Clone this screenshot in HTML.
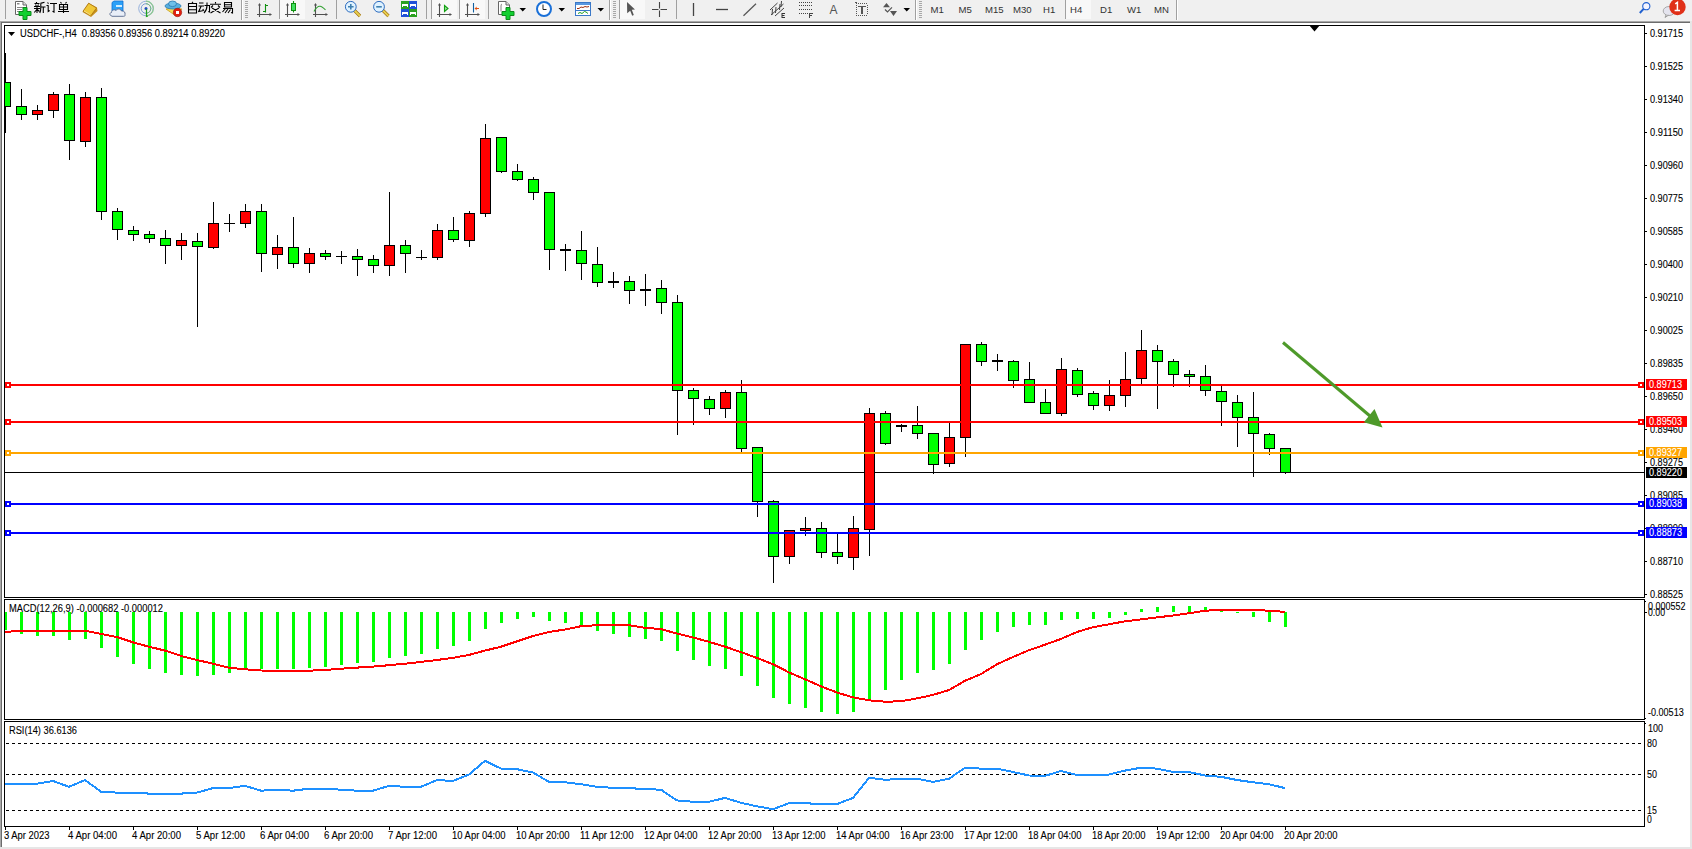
<!DOCTYPE html><html><head><meta charset="utf-8"><style>html,body{margin:0;padding:0;width:1692px;height:849px;overflow:hidden;background:#fff}svg{display:block}text{font-family:"Liberation Sans", sans-serif;}</style></head><body>
<svg width="1692" height="849" viewBox="0 0 1692 849">
<rect x="0" y="0" width="1692" height="849" fill="#ffffff"/>
<g shape-rendering="crispEdges">
<rect x="0" y="0" width="1692" height="21" fill="#f0f0f0"/>
<rect x="0" y="21" width="1690" height="1" fill="#a8a8a8"/>
<rect x="0" y="22" width="1690" height="1" fill="#6c6c6c"/>
<rect x="0" y="21" width="1" height="826" fill="#a8a8a8"/>
<rect x="1" y="22" width="1" height="825" fill="#6c6c6c"/>
<rect x="1690" y="21" width="2" height="826" fill="#e6e6e6"/>
<rect x="0" y="847" width="1692" height="2" fill="#e6e6e6"/>
<rect x="4" y="25" width="1641" height="1" fill="#000"/>
<rect x="4" y="597" width="1641" height="1" fill="#000"/>
<rect x="4" y="25" width="1" height="573" fill="#000"/>
<rect x="1644" y="25" width="1" height="573" fill="#000"/>
<rect x="4" y="599" width="1641" height="1" fill="#000"/>
<rect x="4" y="719" width="1641" height="1" fill="#000"/>
<rect x="4" y="599" width="1" height="121" fill="#000"/>
<rect x="1644" y="599" width="1" height="121" fill="#000"/>
<rect x="4" y="721" width="1641" height="1" fill="#000"/>
<rect x="4" y="826" width="1641" height="1" fill="#000"/>
<rect x="4" y="721" width="1" height="106" fill="#000"/>
<rect x="1644" y="721" width="1" height="106" fill="#000"/>
</g>
<defs><clipPath id="cm"><rect x="5" y="26" width="1639" height="571"/></clipPath><clipPath id="cmacd"><rect x="5" y="600" width="1639" height="119"/></clipPath><clipPath id="crsi"><rect x="5" y="722" width="1639" height="104"/></clipPath></defs>
<g shape-rendering="crispEdges">
<rect x="5" y="472" width="1639" height="1" fill="#000"/>
</g>
<g clip-path="url(#cm)" shape-rendering="crispEdges">
<rect x="5" y="53" width="1" height="80" fill="#000"/>
<rect x="0" y="82" width="11" height="25" fill="#000"/>
<rect x="1" y="83" width="9" height="23" fill="#00ff00"/>
<rect x="21" y="89" width="1" height="31" fill="#000"/>
<rect x="16" y="106" width="11" height="9" fill="#000"/>
<rect x="17" y="107" width="9" height="7" fill="#00ff00"/>
<rect x="37" y="105" width="1" height="15" fill="#000"/>
<rect x="32" y="110" width="11" height="5" fill="#000"/>
<rect x="33" y="111" width="9" height="3" fill="#ff0000"/>
<rect x="53" y="92" width="1" height="26" fill="#000"/>
<rect x="48" y="94" width="11" height="17" fill="#000"/>
<rect x="49" y="95" width="9" height="15" fill="#ff0000"/>
<rect x="69" y="84" width="1" height="76" fill="#000"/>
<rect x="64" y="94" width="11" height="47" fill="#000"/>
<rect x="65" y="95" width="9" height="45" fill="#00ff00"/>
<rect x="85" y="92" width="1" height="55" fill="#000"/>
<rect x="80" y="97" width="11" height="45" fill="#000"/>
<rect x="81" y="98" width="9" height="43" fill="#ff0000"/>
<rect x="101" y="88" width="1" height="132" fill="#000"/>
<rect x="96" y="97" width="11" height="115" fill="#000"/>
<rect x="97" y="98" width="9" height="113" fill="#00ff00"/>
<rect x="117" y="208" width="1" height="32" fill="#000"/>
<rect x="112" y="211" width="11" height="19" fill="#000"/>
<rect x="113" y="212" width="9" height="17" fill="#00ff00"/>
<rect x="133" y="226" width="1" height="15" fill="#000"/>
<rect x="128" y="230" width="11" height="5" fill="#000"/>
<rect x="129" y="231" width="9" height="3" fill="#00ff00"/>
<rect x="149" y="231" width="1" height="12" fill="#000"/>
<rect x="144" y="234" width="11" height="5" fill="#000"/>
<rect x="145" y="235" width="9" height="3" fill="#00ff00"/>
<rect x="165" y="230" width="1" height="34" fill="#000"/>
<rect x="160" y="238" width="11" height="8" fill="#000"/>
<rect x="161" y="239" width="9" height="6" fill="#00ff00"/>
<rect x="181" y="233" width="1" height="27" fill="#000"/>
<rect x="176" y="240" width="11" height="6" fill="#000"/>
<rect x="177" y="241" width="9" height="4" fill="#ff0000"/>
<rect x="197" y="233" width="1" height="94" fill="#000"/>
<rect x="192" y="241" width="11" height="6" fill="#000"/>
<rect x="193" y="242" width="9" height="4" fill="#00ff00"/>
<rect x="213" y="202" width="1" height="47" fill="#000"/>
<rect x="208" y="223" width="11" height="25" fill="#000"/>
<rect x="209" y="224" width="9" height="23" fill="#ff0000"/>
<rect x="229" y="214" width="1" height="18" fill="#000"/>
<rect x="224" y="223" width="11" height="1" fill="#000"/>
<rect x="245" y="204" width="1" height="24" fill="#000"/>
<rect x="240" y="211" width="11" height="13" fill="#000"/>
<rect x="241" y="212" width="9" height="11" fill="#ff0000"/>
<rect x="261" y="204" width="1" height="68" fill="#000"/>
<rect x="256" y="211" width="11" height="43" fill="#000"/>
<rect x="257" y="212" width="9" height="41" fill="#00ff00"/>
<rect x="277" y="235" width="1" height="34" fill="#000"/>
<rect x="272" y="247" width="11" height="8" fill="#000"/>
<rect x="273" y="248" width="9" height="6" fill="#ff0000"/>
<rect x="293" y="217" width="1" height="51" fill="#000"/>
<rect x="288" y="247" width="11" height="17" fill="#000"/>
<rect x="289" y="248" width="9" height="15" fill="#00ff00"/>
<rect x="309" y="248" width="1" height="25" fill="#000"/>
<rect x="304" y="253" width="11" height="11" fill="#000"/>
<rect x="305" y="254" width="9" height="9" fill="#ff0000"/>
<rect x="325" y="250" width="1" height="10" fill="#000"/>
<rect x="320" y="253" width="11" height="4" fill="#000"/>
<rect x="321" y="254" width="9" height="2" fill="#00ff00"/>
<rect x="341" y="251" width="1" height="13" fill="#000"/>
<rect x="336" y="256" width="11" height="1" fill="#000"/>
<rect x="357" y="249" width="1" height="27" fill="#000"/>
<rect x="352" y="256" width="11" height="4" fill="#000"/>
<rect x="353" y="257" width="9" height="2" fill="#00ff00"/>
<rect x="373" y="255" width="1" height="18" fill="#000"/>
<rect x="368" y="259" width="11" height="7" fill="#000"/>
<rect x="369" y="260" width="9" height="5" fill="#00ff00"/>
<rect x="389" y="192" width="1" height="84" fill="#000"/>
<rect x="384" y="245" width="11" height="21" fill="#000"/>
<rect x="385" y="246" width="9" height="19" fill="#ff0000"/>
<rect x="405" y="240" width="1" height="33" fill="#000"/>
<rect x="400" y="245" width="11" height="9" fill="#000"/>
<rect x="401" y="246" width="9" height="7" fill="#00ff00"/>
<rect x="421" y="250" width="1" height="10" fill="#000"/>
<rect x="416" y="257" width="11" height="1" fill="#000"/>
<rect x="437" y="224" width="1" height="36" fill="#000"/>
<rect x="432" y="230" width="11" height="28" fill="#000"/>
<rect x="433" y="231" width="9" height="26" fill="#ff0000"/>
<rect x="453" y="217" width="1" height="25" fill="#000"/>
<rect x="448" y="230" width="11" height="10" fill="#000"/>
<rect x="449" y="231" width="9" height="8" fill="#00ff00"/>
<rect x="469" y="211" width="1" height="36" fill="#000"/>
<rect x="464" y="213" width="11" height="28" fill="#000"/>
<rect x="465" y="214" width="9" height="26" fill="#ff0000"/>
<rect x="485" y="124" width="1" height="93" fill="#000"/>
<rect x="480" y="138" width="11" height="76" fill="#000"/>
<rect x="481" y="139" width="9" height="74" fill="#ff0000"/>
<rect x="501" y="137" width="1" height="36" fill="#000"/>
<rect x="496" y="137" width="11" height="35" fill="#000"/>
<rect x="497" y="138" width="9" height="33" fill="#00ff00"/>
<rect x="517" y="164" width="1" height="17" fill="#000"/>
<rect x="512" y="171" width="11" height="9" fill="#000"/>
<rect x="513" y="172" width="9" height="7" fill="#00ff00"/>
<rect x="533" y="177" width="1" height="23" fill="#000"/>
<rect x="528" y="179" width="11" height="14" fill="#000"/>
<rect x="529" y="180" width="9" height="12" fill="#00ff00"/>
<rect x="549" y="192" width="1" height="78" fill="#000"/>
<rect x="544" y="192" width="11" height="58" fill="#000"/>
<rect x="545" y="193" width="9" height="56" fill="#00ff00"/>
<rect x="565" y="244" width="1" height="27" fill="#000"/>
<rect x="560" y="249" width="11" height="2" fill="#000"/>
<rect x="581" y="231" width="1" height="49" fill="#000"/>
<rect x="576" y="250" width="11" height="14" fill="#000"/>
<rect x="577" y="251" width="9" height="12" fill="#00ff00"/>
<rect x="597" y="247" width="1" height="40" fill="#000"/>
<rect x="592" y="264" width="11" height="19" fill="#000"/>
<rect x="593" y="265" width="9" height="17" fill="#00ff00"/>
<rect x="613" y="272" width="1" height="16" fill="#000"/>
<rect x="608" y="281" width="11" height="2" fill="#000"/>
<rect x="629" y="276" width="1" height="28" fill="#000"/>
<rect x="624" y="281" width="11" height="10" fill="#000"/>
<rect x="625" y="282" width="9" height="8" fill="#00ff00"/>
<rect x="645" y="274" width="1" height="32" fill="#000"/>
<rect x="640" y="289" width="11" height="2" fill="#000"/>
<rect x="661" y="280" width="1" height="34" fill="#000"/>
<rect x="656" y="288" width="11" height="15" fill="#000"/>
<rect x="657" y="289" width="9" height="13" fill="#00ff00"/>
<rect x="677" y="295" width="1" height="140" fill="#000"/>
<rect x="672" y="302" width="11" height="89" fill="#000"/>
<rect x="673" y="303" width="9" height="87" fill="#00ff00"/>
<rect x="693" y="388" width="1" height="37" fill="#000"/>
<rect x="688" y="390" width="11" height="9" fill="#000"/>
<rect x="689" y="391" width="9" height="7" fill="#00ff00"/>
<rect x="709" y="396" width="1" height="19" fill="#000"/>
<rect x="704" y="399" width="11" height="10" fill="#000"/>
<rect x="705" y="400" width="9" height="8" fill="#00ff00"/>
<rect x="725" y="390" width="1" height="28" fill="#000"/>
<rect x="720" y="392" width="11" height="17" fill="#000"/>
<rect x="721" y="393" width="9" height="15" fill="#ff0000"/>
<rect x="741" y="380" width="1" height="72" fill="#000"/>
<rect x="736" y="392" width="11" height="57" fill="#000"/>
<rect x="737" y="393" width="9" height="55" fill="#00ff00"/>
<rect x="757" y="447" width="1" height="70" fill="#000"/>
<rect x="752" y="447" width="11" height="55" fill="#000"/>
<rect x="753" y="448" width="9" height="53" fill="#00ff00"/>
<rect x="773" y="500" width="1" height="83" fill="#000"/>
<rect x="768" y="501" width="11" height="56" fill="#000"/>
<rect x="769" y="502" width="9" height="54" fill="#00ff00"/>
<rect x="789" y="530" width="1" height="34" fill="#000"/>
<rect x="784" y="530" width="11" height="27" fill="#000"/>
<rect x="785" y="531" width="9" height="25" fill="#ff0000"/>
<rect x="805" y="517" width="1" height="19" fill="#000"/>
<rect x="800" y="528" width="11" height="3" fill="#000"/>
<rect x="801" y="529" width="9" height="1" fill="#ff0000"/>
<rect x="821" y="522" width="1" height="36" fill="#000"/>
<rect x="816" y="528" width="11" height="25" fill="#000"/>
<rect x="817" y="529" width="9" height="23" fill="#00ff00"/>
<rect x="837" y="533" width="1" height="31" fill="#000"/>
<rect x="832" y="552" width="11" height="5" fill="#000"/>
<rect x="833" y="553" width="9" height="3" fill="#00ff00"/>
<rect x="853" y="516" width="1" height="54" fill="#000"/>
<rect x="848" y="528" width="11" height="30" fill="#000"/>
<rect x="849" y="529" width="9" height="28" fill="#ff0000"/>
<rect x="869" y="408" width="1" height="148" fill="#000"/>
<rect x="864" y="413" width="11" height="117" fill="#000"/>
<rect x="865" y="414" width="9" height="115" fill="#ff0000"/>
<rect x="885" y="411" width="1" height="34" fill="#000"/>
<rect x="880" y="413" width="11" height="31" fill="#000"/>
<rect x="881" y="414" width="9" height="29" fill="#00ff00"/>
<rect x="901" y="424" width="1" height="8" fill="#000"/>
<rect x="896" y="425" width="11" height="2" fill="#000"/>
<rect x="917" y="406" width="1" height="33" fill="#000"/>
<rect x="912" y="425" width="11" height="9" fill="#000"/>
<rect x="913" y="426" width="9" height="7" fill="#00ff00"/>
<rect x="933" y="433" width="1" height="41" fill="#000"/>
<rect x="928" y="433" width="11" height="32" fill="#000"/>
<rect x="929" y="434" width="9" height="30" fill="#00ff00"/>
<rect x="949" y="422" width="1" height="45" fill="#000"/>
<rect x="944" y="437" width="11" height="27" fill="#000"/>
<rect x="945" y="438" width="9" height="25" fill="#ff0000"/>
<rect x="965" y="344" width="1" height="113" fill="#000"/>
<rect x="960" y="344" width="11" height="94" fill="#000"/>
<rect x="961" y="345" width="9" height="92" fill="#ff0000"/>
<rect x="981" y="342" width="1" height="24" fill="#000"/>
<rect x="976" y="344" width="11" height="18" fill="#000"/>
<rect x="977" y="345" width="9" height="16" fill="#00ff00"/>
<rect x="997" y="354" width="1" height="17" fill="#000"/>
<rect x="992" y="360" width="11" height="2" fill="#000"/>
<rect x="1013" y="360" width="1" height="28" fill="#000"/>
<rect x="1008" y="361" width="11" height="20" fill="#000"/>
<rect x="1009" y="362" width="9" height="18" fill="#00ff00"/>
<rect x="1029" y="362" width="1" height="41" fill="#000"/>
<rect x="1024" y="379" width="11" height="24" fill="#000"/>
<rect x="1025" y="380" width="9" height="22" fill="#00ff00"/>
<rect x="1045" y="389" width="1" height="25" fill="#000"/>
<rect x="1040" y="402" width="11" height="12" fill="#000"/>
<rect x="1041" y="403" width="9" height="10" fill="#00ff00"/>
<rect x="1061" y="358" width="1" height="58" fill="#000"/>
<rect x="1056" y="369" width="11" height="45" fill="#000"/>
<rect x="1057" y="370" width="9" height="43" fill="#ff0000"/>
<rect x="1077" y="368" width="1" height="29" fill="#000"/>
<rect x="1072" y="370" width="11" height="25" fill="#000"/>
<rect x="1073" y="371" width="9" height="23" fill="#00ff00"/>
<rect x="1093" y="391" width="1" height="19" fill="#000"/>
<rect x="1088" y="393" width="11" height="13" fill="#000"/>
<rect x="1089" y="394" width="9" height="11" fill="#00ff00"/>
<rect x="1109" y="380" width="1" height="31" fill="#000"/>
<rect x="1104" y="395" width="11" height="11" fill="#000"/>
<rect x="1105" y="396" width="9" height="9" fill="#ff0000"/>
<rect x="1125" y="352" width="1" height="55" fill="#000"/>
<rect x="1120" y="379" width="11" height="17" fill="#000"/>
<rect x="1121" y="380" width="9" height="15" fill="#ff0000"/>
<rect x="1141" y="330" width="1" height="55" fill="#000"/>
<rect x="1136" y="350" width="11" height="29" fill="#000"/>
<rect x="1137" y="351" width="9" height="27" fill="#ff0000"/>
<rect x="1157" y="345" width="1" height="64" fill="#000"/>
<rect x="1152" y="350" width="11" height="12" fill="#000"/>
<rect x="1153" y="351" width="9" height="10" fill="#00ff00"/>
<rect x="1173" y="359" width="1" height="28" fill="#000"/>
<rect x="1168" y="361" width="11" height="14" fill="#000"/>
<rect x="1169" y="362" width="9" height="12" fill="#00ff00"/>
<rect x="1189" y="370" width="1" height="17" fill="#000"/>
<rect x="1184" y="374" width="11" height="3" fill="#000"/>
<rect x="1185" y="375" width="9" height="1" fill="#00ff00"/>
<rect x="1205" y="365" width="1" height="31" fill="#000"/>
<rect x="1200" y="376" width="11" height="15" fill="#000"/>
<rect x="1201" y="377" width="9" height="13" fill="#00ff00"/>
<rect x="1221" y="386" width="1" height="40" fill="#000"/>
<rect x="1216" y="391" width="11" height="11" fill="#000"/>
<rect x="1217" y="392" width="9" height="9" fill="#00ff00"/>
<rect x="1237" y="395" width="1" height="52" fill="#000"/>
<rect x="1232" y="402" width="11" height="16" fill="#000"/>
<rect x="1233" y="403" width="9" height="14" fill="#00ff00"/>
<rect x="1253" y="392" width="1" height="85" fill="#000"/>
<rect x="1248" y="417" width="11" height="17" fill="#000"/>
<rect x="1249" y="418" width="9" height="15" fill="#00ff00"/>
<rect x="1269" y="433" width="1" height="22" fill="#000"/>
<rect x="1264" y="434" width="11" height="15" fill="#000"/>
<rect x="1265" y="435" width="9" height="13" fill="#00ff00"/>
<rect x="1285" y="448" width="1" height="26" fill="#000"/>
<rect x="1280" y="448" width="11" height="25" fill="#000"/>
<rect x="1281" y="449" width="9" height="23" fill="#00ff00"/>
</g>
<g shape-rendering="crispEdges">
<rect x="5" y="384" width="1639" height="2" fill="#ff0000"/>
<rect x="5" y="421" width="1639" height="2" fill="#ff0000"/>
<rect x="5" y="452" width="1639" height="2" fill="#ffa500"/>
<rect x="5" y="503" width="1639" height="2" fill="#0000ff"/>
<rect x="5" y="532" width="1639" height="2" fill="#0000ff"/>
<rect x="5" y="382" width="6" height="6" fill="#ff0000"/>
<rect x="7" y="384" width="2" height="2" fill="#fff"/>
<rect x="1638" y="382" width="6" height="6" fill="#ff0000"/>
<rect x="1640" y="384" width="2" height="2" fill="#fff"/>
<rect x="5" y="419" width="6" height="6" fill="#ff0000"/>
<rect x="7" y="421" width="2" height="2" fill="#fff"/>
<rect x="1638" y="419" width="6" height="6" fill="#ff0000"/>
<rect x="1640" y="421" width="2" height="2" fill="#fff"/>
<rect x="5" y="450" width="6" height="6" fill="#ffa500"/>
<rect x="7" y="452" width="2" height="2" fill="#fff"/>
<rect x="1638" y="450" width="6" height="6" fill="#ffa500"/>
<rect x="1640" y="452" width="2" height="2" fill="#fff"/>
<rect x="5" y="501" width="6" height="6" fill="#0000ff"/>
<rect x="7" y="503" width="2" height="2" fill="#fff"/>
<rect x="1638" y="501" width="6" height="6" fill="#0000ff"/>
<rect x="1640" y="503" width="2" height="2" fill="#fff"/>
<rect x="5" y="530" width="6" height="6" fill="#0000ff"/>
<rect x="7" y="532" width="2" height="2" fill="#fff"/>
<rect x="1638" y="530" width="6" height="6" fill="#0000ff"/>
<rect x="1640" y="532" width="2" height="2" fill="#fff"/>
</g>
<path d="M1309 25 L1320 25 L1314.5 31.5 Z" fill="#000"/>
<g>
<line x1="1283" y1="342.5" x2="1370" y2="416" stroke="#4e9a2a" stroke-width="3"/>
<path d="M1374.5 409 L1363.8 422.3 L1382.5 427.5 Z" fill="#4e9a2a"/>
</g>
<g shape-rendering="crispEdges">
<rect x="1645" y="33" width="2" height="1" fill="#000"/>
<rect x="1645" y="66" width="2" height="1" fill="#000"/>
<rect x="1645" y="99" width="2" height="1" fill="#000"/>
<rect x="1645" y="132" width="2" height="1" fill="#000"/>
<rect x="1645" y="165" width="2" height="1" fill="#000"/>
<rect x="1645" y="198" width="2" height="1" fill="#000"/>
<rect x="1645" y="231" width="2" height="1" fill="#000"/>
<rect x="1645" y="264" width="2" height="1" fill="#000"/>
<rect x="1645" y="297" width="2" height="1" fill="#000"/>
<rect x="1645" y="330" width="2" height="1" fill="#000"/>
<rect x="1645" y="363" width="2" height="1" fill="#000"/>
<rect x="1645" y="396" width="2" height="1" fill="#000"/>
<rect x="1645" y="429" width="2" height="1" fill="#000"/>
<rect x="1645" y="462" width="2" height="1" fill="#000"/>
<rect x="1645" y="495" width="2" height="1" fill="#000"/>
<rect x="1645" y="528" width="2" height="1" fill="#000"/>
<rect x="1645" y="561" width="2" height="1" fill="#000"/>
<rect x="1645" y="594" width="2" height="1" fill="#000"/>
</g>
<text x="1650" y="37" font-size="10" fill="#000" stroke="#000" stroke-width="0.1" textLength="33" lengthAdjust="spacingAndGlyphs">0.91715</text>
<text x="1650" y="70" font-size="10" fill="#000" stroke="#000" stroke-width="0.1" textLength="33" lengthAdjust="spacingAndGlyphs">0.91525</text>
<text x="1650" y="103" font-size="10" fill="#000" stroke="#000" stroke-width="0.1" textLength="33" lengthAdjust="spacingAndGlyphs">0.91340</text>
<text x="1650" y="136" font-size="10" fill="#000" stroke="#000" stroke-width="0.1" textLength="33" lengthAdjust="spacingAndGlyphs">0.91150</text>
<text x="1650" y="169" font-size="10" fill="#000" stroke="#000" stroke-width="0.1" textLength="33" lengthAdjust="spacingAndGlyphs">0.90960</text>
<text x="1650" y="202" font-size="10" fill="#000" stroke="#000" stroke-width="0.1" textLength="33" lengthAdjust="spacingAndGlyphs">0.90775</text>
<text x="1650" y="235" font-size="10" fill="#000" stroke="#000" stroke-width="0.1" textLength="33" lengthAdjust="spacingAndGlyphs">0.90585</text>
<text x="1650" y="268" font-size="10" fill="#000" stroke="#000" stroke-width="0.1" textLength="33" lengthAdjust="spacingAndGlyphs">0.90400</text>
<text x="1650" y="301" font-size="10" fill="#000" stroke="#000" stroke-width="0.1" textLength="33" lengthAdjust="spacingAndGlyphs">0.90210</text>
<text x="1650" y="334" font-size="10" fill="#000" stroke="#000" stroke-width="0.1" textLength="33" lengthAdjust="spacingAndGlyphs">0.90025</text>
<text x="1650" y="367" font-size="10" fill="#000" stroke="#000" stroke-width="0.1" textLength="33" lengthAdjust="spacingAndGlyphs">0.89835</text>
<text x="1650" y="400" font-size="10" fill="#000" stroke="#000" stroke-width="0.1" textLength="33" lengthAdjust="spacingAndGlyphs">0.89650</text>
<text x="1650" y="433" font-size="10" fill="#000" stroke="#000" stroke-width="0.1" textLength="33" lengthAdjust="spacingAndGlyphs">0.89460</text>
<text x="1650" y="466" font-size="10" fill="#000" stroke="#000" stroke-width="0.1" textLength="33" lengthAdjust="spacingAndGlyphs">0.89275</text>
<text x="1650" y="499" font-size="10" fill="#000" stroke="#000" stroke-width="0.1" textLength="33" lengthAdjust="spacingAndGlyphs">0.89085</text>
<text x="1650" y="532" font-size="10" fill="#000" stroke="#000" stroke-width="0.1" textLength="33" lengthAdjust="spacingAndGlyphs">0.88900</text>
<text x="1650" y="565" font-size="10" fill="#000" stroke="#000" stroke-width="0.1" textLength="33" lengthAdjust="spacingAndGlyphs">0.88710</text>
<text x="1650" y="598" font-size="10" fill="#000" stroke="#000" stroke-width="0.1" textLength="33" lengthAdjust="spacingAndGlyphs">0.88525</text>
<g shape-rendering="crispEdges">
<rect x="1646" y="379" width="41" height="11" fill="#ff0000"/>
<rect x="1646" y="416" width="41" height="11" fill="#ff0000"/>
<rect x="1646" y="447" width="41" height="11" fill="#ffa500"/>
<rect x="1646" y="498" width="41" height="11" fill="#0000ff"/>
<rect x="1646" y="527" width="41" height="11" fill="#0000ff"/>
<rect x="1646" y="467" width="41" height="11" fill="#000"/>
</g>
<text x="1649" y="388" font-size="10" fill="#fff" stroke="#fff" stroke-width="0.1" textLength="33" lengthAdjust="spacingAndGlyphs">0.89713</text>
<text x="1649" y="425" font-size="10" fill="#fff" stroke="#fff" stroke-width="0.1" textLength="33" lengthAdjust="spacingAndGlyphs">0.89503</text>
<text x="1649" y="456" font-size="10" fill="#fff" stroke="#fff" stroke-width="0.1" textLength="33" lengthAdjust="spacingAndGlyphs">0.89327</text>
<text x="1649" y="507" font-size="10" fill="#fff" stroke="#fff" stroke-width="0.1" textLength="33" lengthAdjust="spacingAndGlyphs">0.89038</text>
<text x="1649" y="536" font-size="10" fill="#fff" stroke="#fff" stroke-width="0.1" textLength="33" lengthAdjust="spacingAndGlyphs">0.88873</text>
<text x="1649" y="476" font-size="10" fill="#fff" stroke="#fff" stroke-width="0.1" textLength="33" lengthAdjust="spacingAndGlyphs">0.89220</text>
<g clip-path="url(#cmacd)" shape-rendering="crispEdges">
<rect x="4" y="612" width="3" height="18" fill="#00ff00"/>
<rect x="20" y="612" width="3" height="22" fill="#00ff00"/>
<rect x="36" y="612" width="3" height="24" fill="#00ff00"/>
<rect x="52" y="612" width="3" height="24" fill="#00ff00"/>
<rect x="68" y="612" width="3" height="28" fill="#00ff00"/>
<rect x="84" y="612" width="3" height="27" fill="#00ff00"/>
<rect x="100" y="612" width="3" height="36" fill="#00ff00"/>
<rect x="116" y="612" width="3" height="45" fill="#00ff00"/>
<rect x="132" y="612" width="3" height="52" fill="#00ff00"/>
<rect x="148" y="612" width="3" height="57" fill="#00ff00"/>
<rect x="164" y="612" width="3" height="61" fill="#00ff00"/>
<rect x="180" y="612" width="3" height="63" fill="#00ff00"/>
<rect x="196" y="612" width="3" height="64" fill="#00ff00"/>
<rect x="212" y="612" width="3" height="63" fill="#00ff00"/>
<rect x="228" y="612" width="3" height="61" fill="#00ff00"/>
<rect x="244" y="612" width="3" height="58" fill="#00ff00"/>
<rect x="260" y="612" width="3" height="57" fill="#00ff00"/>
<rect x="276" y="612" width="3" height="57" fill="#00ff00"/>
<rect x="292" y="612" width="3" height="57" fill="#00ff00"/>
<rect x="308" y="612" width="3" height="56" fill="#00ff00"/>
<rect x="324" y="612" width="3" height="55" fill="#00ff00"/>
<rect x="340" y="612" width="3" height="53" fill="#00ff00"/>
<rect x="356" y="612" width="3" height="51" fill="#00ff00"/>
<rect x="372" y="612" width="3" height="50" fill="#00ff00"/>
<rect x="388" y="612" width="3" height="46" fill="#00ff00"/>
<rect x="404" y="612" width="3" height="44" fill="#00ff00"/>
<rect x="420" y="612" width="3" height="42" fill="#00ff00"/>
<rect x="436" y="612" width="3" height="37" fill="#00ff00"/>
<rect x="452" y="612" width="3" height="34" fill="#00ff00"/>
<rect x="468" y="612" width="3" height="29" fill="#00ff00"/>
<rect x="484" y="612" width="3" height="17" fill="#00ff00"/>
<rect x="500" y="612" width="3" height="11" fill="#00ff00"/>
<rect x="516" y="612" width="3" height="7" fill="#00ff00"/>
<rect x="532" y="612" width="3" height="5" fill="#00ff00"/>
<rect x="548" y="612" width="3" height="9" fill="#00ff00"/>
<rect x="564" y="612" width="3" height="11" fill="#00ff00"/>
<rect x="580" y="612" width="3" height="14" fill="#00ff00"/>
<rect x="596" y="612" width="3" height="19" fill="#00ff00"/>
<rect x="612" y="612" width="3" height="22" fill="#00ff00"/>
<rect x="628" y="612" width="3" height="25" fill="#00ff00"/>
<rect x="644" y="612" width="3" height="27" fill="#00ff00"/>
<rect x="660" y="612" width="3" height="29" fill="#00ff00"/>
<rect x="676" y="612" width="3" height="39" fill="#00ff00"/>
<rect x="692" y="612" width="3" height="48" fill="#00ff00"/>
<rect x="708" y="612" width="3" height="54" fill="#00ff00"/>
<rect x="724" y="612" width="3" height="57" fill="#00ff00"/>
<rect x="740" y="612" width="3" height="64" fill="#00ff00"/>
<rect x="756" y="612" width="3" height="74" fill="#00ff00"/>
<rect x="772" y="612" width="3" height="86" fill="#00ff00"/>
<rect x="788" y="612" width="3" height="92" fill="#00ff00"/>
<rect x="804" y="612" width="3" height="96" fill="#00ff00"/>
<rect x="820" y="612" width="3" height="100" fill="#00ff00"/>
<rect x="836" y="612" width="3" height="102" fill="#00ff00"/>
<rect x="852" y="612" width="3" height="100" fill="#00ff00"/>
<rect x="868" y="612" width="3" height="87" fill="#00ff00"/>
<rect x="884" y="612" width="3" height="78" fill="#00ff00"/>
<rect x="900" y="612" width="3" height="68" fill="#00ff00"/>
<rect x="916" y="612" width="3" height="61" fill="#00ff00"/>
<rect x="932" y="612" width="3" height="58" fill="#00ff00"/>
<rect x="948" y="612" width="3" height="52" fill="#00ff00"/>
<rect x="964" y="612" width="3" height="38" fill="#00ff00"/>
<rect x="980" y="612" width="3" height="28" fill="#00ff00"/>
<rect x="996" y="612" width="3" height="20" fill="#00ff00"/>
<rect x="1012" y="612" width="3" height="15" fill="#00ff00"/>
<rect x="1028" y="612" width="3" height="13" fill="#00ff00"/>
<rect x="1044" y="612" width="3" height="13" fill="#00ff00"/>
<rect x="1060" y="612" width="3" height="8" fill="#00ff00"/>
<rect x="1076" y="612" width="3" height="7" fill="#00ff00"/>
<rect x="1092" y="612" width="3" height="7" fill="#00ff00"/>
<rect x="1108" y="612" width="3" height="6" fill="#00ff00"/>
<rect x="1124" y="612" width="3" height="3" fill="#00ff00"/>
<rect x="1140" y="609" width="3" height="3" fill="#00ff00"/>
<rect x="1156" y="607" width="3" height="5" fill="#00ff00"/>
<rect x="1172" y="606" width="3" height="6" fill="#00ff00"/>
<rect x="1188" y="606" width="3" height="6" fill="#00ff00"/>
<rect x="1204" y="607" width="3" height="5" fill="#00ff00"/>
<rect x="1220" y="609" width="3" height="3" fill="#00ff00"/>
<rect x="1236" y="612" width="3" height="1" fill="#00ff00"/>
<rect x="1252" y="612" width="3" height="5" fill="#00ff00"/>
<rect x="1268" y="612" width="3" height="10" fill="#00ff00"/>
<rect x="1284" y="612" width="3" height="15" fill="#00ff00"/>
</g>
<polyline clip-path="url(#cmacd)" points="5,632.0 21,630.7 37,630.7 53,630.7 69,630.7 85,630.7 101,634.0 117,637.0 133,642.4 149,646.7 165,650.6 181,655.9 197,660.0 213,663.7 229,667.8 245,669.3 261,670.5 277,670.7 293,670.7 309,670.7 325,670.0 341,668.7 357,667.6 373,666.6 389,665.2 405,663.7 421,661.9 437,660.0 453,657.8 469,654.9 485,650.6 501,646.7 517,641.4 533,636.0 549,632.0 565,629.5 581,626.2 597,625.2 613,624.8 629,625.2 645,627.8 661,629.1 677,633.6 693,637.5 709,641.8 725,646.7 741,652.1 757,658.0 773,664.2 789,672.4 805,679.3 821,686.3 837,692.5 853,697.4 869,700.3 885,701.7 901,701.3 917,698.4 933,694.9 949,690.0 965,680.8 981,674.0 997,664.2 1013,657.0 1029,650.2 1045,644.7 1061,638.9 1077,632.0 1093,627.2 1109,624.3 1125,621.3 1141,619.4 1157,617.4 1173,615.5 1189,613.2 1205,610.8 1221,609.7 1237,609.7 1253,609.7 1269,610.8 1285,611.8" fill="none" stroke="#ff0000" stroke-width="2" shape-rendering="crispEdges"/>
<text x="9" y="612" font-size="10" fill="#000" stroke="#000" stroke-width="0.1" textLength="154" lengthAdjust="spacingAndGlyphs">MACD(12,26,9) -0.000682 -0.000012</text>
<g shape-rendering="crispEdges">
<rect x="1645" y="601" width="1" height="1" fill="#000"/>
<rect x="1645" y="612" width="2" height="1" fill="#000"/>
<rect x="1645" y="718" width="1" height="1" fill="#000"/>
</g>
<text x="1648" y="610" font-size="10" fill="#000" stroke="#000" stroke-width="0.1" textLength="37.4" lengthAdjust="spacingAndGlyphs">0.000552</text>
<text x="1648" y="615.5" font-size="10" fill="#000" stroke="#000" stroke-width="0.1" textLength="17" lengthAdjust="spacingAndGlyphs">0.00</text>
<text x="1648" y="716" font-size="10" fill="#000" stroke="#000" stroke-width="0.1" textLength="35.7" lengthAdjust="spacingAndGlyphs">-0.00513</text>
<g shape-rendering="crispEdges">
<line x1="6" y1="743.5" x2="1644" y2="743.5" stroke="#000" stroke-width="1" stroke-dasharray="3,3"/>
<line x1="6" y1="774.5" x2="1644" y2="774.5" stroke="#000" stroke-width="1" stroke-dasharray="3,3"/>
<line x1="6" y1="810.5" x2="1644" y2="810.5" stroke="#000" stroke-width="1" stroke-dasharray="3,3"/>
<rect x="1645" y="723" width="1" height="1" fill="#000"/>
</g>
<polyline clip-path="url(#crsi)" points="5,783.7 21,783.7 37,783.7 53,781.0 69,786.8 85,780.0 101,791.7 117,792.6 133,792.6 149,793.6 165,793.6 181,793.6 197,792.6 213,788.1 229,788.1 245,785.8 261,790.7 277,789.7 293,790.7 309,788.7 325,788.7 341,789.7 357,790.7 373,790.7 389,785.8 405,786.8 421,786.8 437,780.0 453,781.0 469,774.5 485,760.8 501,768.6 517,769.2 533,772.5 549,781.9 565,782.3 581,784.2 597,786.8 613,787.8 629,788.1 645,789.1 661,789.7 677,800.4 693,801.8 709,801.8 725,797.9 741,802.8 757,806.3 773,809.2 789,803.2 805,803.2 821,804.1 837,804.1 853,797.9 869,777.8 885,779.8 901,778.8 917,778.8 933,781.9 949,778.8 965,767.7 981,768.6 997,768.6 1013,772.0 1029,775.5 1045,775.9 1061,771.0 1077,774.9 1093,774.9 1109,774.5 1125,770.6 1141,767.7 1157,768.6 1173,772.0 1189,772.0 1205,775.5 1221,776.8 1237,780.0 1253,782.3 1269,784.2 1285,788.1" fill="none" stroke="#1e90ff" stroke-width="2" shape-rendering="crispEdges"/>
<text x="9" y="734" font-size="10" fill="#000" stroke="#000" stroke-width="0.1" textLength="68" lengthAdjust="spacingAndGlyphs">RSI(14) 36.6136</text>
<text x="1648" y="732" font-size="10" fill="#000" stroke="#000" stroke-width="0.1" textLength="15" lengthAdjust="spacingAndGlyphs">100</text>
<text x="1647" y="747" font-size="10" fill="#000" stroke="#000" stroke-width="0.1" textLength="10" lengthAdjust="spacingAndGlyphs">80</text>
<text x="1647" y="778" font-size="10" fill="#000" stroke="#000" stroke-width="0.1" textLength="10" lengthAdjust="spacingAndGlyphs">50</text>
<text x="1647" y="814" font-size="10" fill="#000" stroke="#000" stroke-width="0.1" textLength="9.8" lengthAdjust="spacingAndGlyphs">15</text>
<text x="1647" y="823" font-size="10" fill="#000" stroke="#000" stroke-width="0.1" textLength="4.8" lengthAdjust="spacingAndGlyphs">0</text>
<g shape-rendering="crispEdges">
<rect x="5" y="827" width="1" height="3" fill="#000"/>
<rect x="69" y="827" width="1" height="3" fill="#000"/>
<rect x="133" y="827" width="1" height="3" fill="#000"/>
<rect x="197" y="827" width="1" height="3" fill="#000"/>
<rect x="261" y="827" width="1" height="3" fill="#000"/>
<rect x="325" y="827" width="1" height="3" fill="#000"/>
<rect x="389" y="827" width="1" height="3" fill="#000"/>
<rect x="453" y="827" width="1" height="3" fill="#000"/>
<rect x="517" y="827" width="1" height="3" fill="#000"/>
<rect x="581" y="827" width="1" height="3" fill="#000"/>
<rect x="645" y="827" width="1" height="3" fill="#000"/>
<rect x="709" y="827" width="1" height="3" fill="#000"/>
<rect x="773" y="827" width="1" height="3" fill="#000"/>
<rect x="837" y="827" width="1" height="3" fill="#000"/>
<rect x="901" y="827" width="1" height="3" fill="#000"/>
<rect x="965" y="827" width="1" height="3" fill="#000"/>
<rect x="1029" y="827" width="1" height="3" fill="#000"/>
<rect x="1093" y="827" width="1" height="3" fill="#000"/>
<rect x="1157" y="827" width="1" height="3" fill="#000"/>
<rect x="1221" y="827" width="1" height="3" fill="#000"/>
<rect x="1285" y="827" width="1" height="3" fill="#000"/>
</g>
<text x="4" y="839" font-size="10" fill="#000" stroke="#000" stroke-width="0.1" textLength="45.5" lengthAdjust="spacingAndGlyphs">3 Apr 2023</text>
<text x="68" y="839" font-size="10" fill="#000" stroke="#000" stroke-width="0.1" textLength="49" lengthAdjust="spacingAndGlyphs">4 Apr 04:00</text>
<text x="132" y="839" font-size="10" fill="#000" stroke="#000" stroke-width="0.1" textLength="49" lengthAdjust="spacingAndGlyphs">4 Apr 20:00</text>
<text x="196" y="839" font-size="10" fill="#000" stroke="#000" stroke-width="0.1" textLength="49" lengthAdjust="spacingAndGlyphs">5 Apr 12:00</text>
<text x="260" y="839" font-size="10" fill="#000" stroke="#000" stroke-width="0.1" textLength="49" lengthAdjust="spacingAndGlyphs">6 Apr 04:00</text>
<text x="324" y="839" font-size="10" fill="#000" stroke="#000" stroke-width="0.1" textLength="49" lengthAdjust="spacingAndGlyphs">6 Apr 20:00</text>
<text x="388" y="839" font-size="10" fill="#000" stroke="#000" stroke-width="0.1" textLength="49" lengthAdjust="spacingAndGlyphs">7 Apr 12:00</text>
<text x="452" y="839" font-size="10" fill="#000" stroke="#000" stroke-width="0.1" textLength="53.5" lengthAdjust="spacingAndGlyphs">10 Apr 04:00</text>
<text x="516" y="839" font-size="10" fill="#000" stroke="#000" stroke-width="0.1" textLength="53.5" lengthAdjust="spacingAndGlyphs">10 Apr 20:00</text>
<text x="580" y="839" font-size="10" fill="#000" stroke="#000" stroke-width="0.1" textLength="53.5" lengthAdjust="spacingAndGlyphs">11 Apr 12:00</text>
<text x="644" y="839" font-size="10" fill="#000" stroke="#000" stroke-width="0.1" textLength="53.5" lengthAdjust="spacingAndGlyphs">12 Apr 04:00</text>
<text x="708" y="839" font-size="10" fill="#000" stroke="#000" stroke-width="0.1" textLength="53.5" lengthAdjust="spacingAndGlyphs">12 Apr 20:00</text>
<text x="772" y="839" font-size="10" fill="#000" stroke="#000" stroke-width="0.1" textLength="53.5" lengthAdjust="spacingAndGlyphs">13 Apr 12:00</text>
<text x="836" y="839" font-size="10" fill="#000" stroke="#000" stroke-width="0.1" textLength="53.5" lengthAdjust="spacingAndGlyphs">14 Apr 04:00</text>
<text x="900" y="839" font-size="10" fill="#000" stroke="#000" stroke-width="0.1" textLength="53.5" lengthAdjust="spacingAndGlyphs">16 Apr 23:00</text>
<text x="964" y="839" font-size="10" fill="#000" stroke="#000" stroke-width="0.1" textLength="53.5" lengthAdjust="spacingAndGlyphs">17 Apr 12:00</text>
<text x="1028" y="839" font-size="10" fill="#000" stroke="#000" stroke-width="0.1" textLength="53.5" lengthAdjust="spacingAndGlyphs">18 Apr 04:00</text>
<text x="1092" y="839" font-size="10" fill="#000" stroke="#000" stroke-width="0.1" textLength="53.5" lengthAdjust="spacingAndGlyphs">18 Apr 20:00</text>
<text x="1156" y="839" font-size="10" fill="#000" stroke="#000" stroke-width="0.1" textLength="53.5" lengthAdjust="spacingAndGlyphs">19 Apr 12:00</text>
<text x="1220" y="839" font-size="10" fill="#000" stroke="#000" stroke-width="0.1" textLength="53.5" lengthAdjust="spacingAndGlyphs">20 Apr 04:00</text>
<text x="1284" y="839" font-size="10" fill="#000" stroke="#000" stroke-width="0.1" textLength="53.5" lengthAdjust="spacingAndGlyphs">20 Apr 20:00</text>
<path d="M8 32 L15 32 L11.5 36 Z" fill="#000"/>
<text x="20" y="37" font-size="10" fill="#000" stroke="#000" stroke-width="0.1" textLength="205" lengthAdjust="spacingAndGlyphs" xml:space="preserve">USDCHF-,H4  0.89356 0.89356 0.89214 0.89220</text>
<g id="toolbar">
<!-- separators -->
<g shape-rendering="crispEdges">
<rect x="5" y="0" width="1" height="19" fill="#a0a0a0"/>
<rect x="241" y="0" width="1" height="20" fill="#a0a0a0"/><rect x="242" y="0" width="1" height="20" fill="#ffffff"/>
<rect x="279" y="0" width="1" height="19" fill="#a0a0a0"/>
<rect x="336" y="0" width="1" height="19" fill="#a0a0a0"/>
<rect x="426" y="0" width="1" height="19" fill="#a0a0a0"/>
<rect x="431" y="0" width="1" height="19" fill="#a0a0a0"/>
<rect x="459" y="0" width="1" height="19" fill="#a0a0a0"/>
<rect x="488" y="0" width="1" height="19" fill="#a0a0a0"/>
<rect x="609" y="0" width="1" height="20" fill="#a0a0a0"/><rect x="610" y="0" width="1" height="20" fill="#ffffff"/>
<rect x="619" y="0" width="1" height="19" fill="#a0a0a0"/>
<rect x="676" y="0" width="1" height="19" fill="#a0a0a0"/>
<rect x="915" y="0" width="1" height="20" fill="#a0a0a0"/><rect x="916" y="0" width="1" height="20" fill="#ffffff"/>
<rect x="1065" y="0" width="1" height="19" fill="#a0a0a0"/>
<rect x="1176" y="0" width="1" height="20" fill="#a0a0a0"/><rect x="1177" y="0" width="1" height="20" fill="#ffffff"/>
<!-- selected bgs -->
<rect x="280" y="0" width="25" height="19" fill="#f8f8f8"/>
<rect x="432" y="0" width="25" height="19" fill="#f8f8f8"/>
<rect x="460" y="0" width="25" height="19" fill="#f8f8f8"/>
<rect x="620" y="0" width="25" height="19" fill="#f8f8f8"/>
<rect x="1066" y="0" width="25" height="19" fill="#f8f8f8"/>
</g>
<!-- grips -->
<g fill="#a8a8a8" shape-rendering="crispEdges">
<path d="M245 1h3v1h-3zM245 3h3v1h-3zM245 5h3v1h-3zM245 7h3v1h-3zM245 9h3v1h-3zM245 11h3v1h-3zM245 13h3v1h-3zM245 15h3v1h-3zM245 17h3v1h-3z"/>
<path d="M613 1h3v1h-3zM613 3h3v1h-3zM613 5h3v1h-3zM613 7h3v1h-3zM613 9h3v1h-3zM613 11h3v1h-3zM613 13h3v1h-3zM613 15h3v1h-3zM613 17h3v1h-3z"/>
<path d="M919 1h3v1h-3zM919 3h3v1h-3zM919 5h3v1h-3zM919 7h3v1h-3zM919 9h3v1h-3zM919 11h3v1h-3zM919 13h3v1h-3zM919 15h3v1h-3zM919 17h3v1h-3z"/>
</g>
<!-- new order icon -->
<g>
<path d="M15.5 1.5 H23 L26.5 5 V14.5 H15.5 Z" fill="#fff" stroke="#666" stroke-width="1"/>
<path d="M23 1.5 V5 H26.5" fill="#ddd" stroke="#666" stroke-width="1"/>
<rect x="17" y="3" width="2.5" height="1.5" fill="#888"/>
<rect x="17" y="7" width="6" height="1" fill="#888"/><rect x="17" y="9" width="5" height="1" fill="#888"/><rect x="17" y="11" width="3" height="1" fill="#888"/>
<path d="M23 7.5h4v4h4v4h-4v4h-4v-4h-4v-4h4z" fill="#10d030" stroke="#0a8a1a" stroke-width="1"/>
</g>
<!-- 新订单 -->
<g fill="none" stroke="#000" stroke-width="1.1" stroke-linecap="butt">
<path d="M36.5 2v1.5 M34.5 3.5h5 M35.5 4.5l0.8 1.5 M38.5 4.5l-0.8 1.5 M34 6.5h6 M34 8.5h6 M37 6.5v6.5 M36.8 9.5l-2.5 3 M37.2 9.5l2.3 2"/>
<path d="M44.5 2.2l-4 1.2 M40.8 3.5v4c0 2.5-0.3 4-1 5.5 M40.8 7h4.7 M43.3 7v6"/>
<path d="M47.5 2.5l1 1.2 M46.5 5.5h2 M48.2 5.5v6l1.5-1 M50 3.5h7 M54 3.5v8.5l-1.5-0.8"/>
<path d="M60.5 2l1 1.5 M66.5 2l-1 1.5 M59.5 4.5h8v5h-8z M59.5 7h8 M63.5 4.5v8.5 M58 11.5h11"/>
</g>
<!-- gold book -->
<g>
<path d="M82.5 12 L88.5 3 L97 7.5 L97.5 11 L91 17 Z" fill="#c8921a"/>
<path d="M83 11.2 L88.7 3.2 L96.5 8 L91 15.5 Z" fill="#f0c838" stroke="#a87010" stroke-width="0.8"/>
<path d="M84 11 L90.5 15" stroke="#fff0a0" stroke-width="0.8"/>
</g>
<!-- server cloud -->
<g>
<path d="M112 2.5 L114 1 H123 V11 H112 Z" fill="#2aa0f8" stroke="#1070d0" stroke-width="0.8"/>
<rect x="116" y="5" width="6" height="2" fill="#cfeeff"/>
<path d="M111 15.5 c-1.5 0 -1.5 -3 0.5 -3 c0 -2.5 3 -3.5 4.5 -2 c1 -2 4.5 -2 5.5 0.5 c2.5 -0.5 4 1.5 3.5 3.5 c0.5 1 -0.2 1.8 -1.5 1.8 H112 Z" fill="#e8eef8" stroke="#56688c" stroke-width="0.9"/>
</g>
<!-- signal -->
<g fill="none">
<circle cx="146" cy="8.5" r="7.3" stroke="#8aa8d8" stroke-width="0.9"/>
<circle cx="146" cy="8.5" r="4.8" stroke="#6a90d0" stroke-width="0.9"/>
<path d="M146 1.2 A7.3 7.3 0 0 1 146 15.8" stroke="#8cc890" stroke-width="1.2"/>
<path d="M146 3.7 A4.8 4.8 0 0 1 146 13.3" stroke="#7abc80" stroke-width="1"/>
<circle cx="146" cy="8.5" r="1.5" fill="#2050c0"/>
<path d="M146.5 9 V16.5 L148 16" stroke="#20a020" stroke-width="1.2"/>
</g>
<!-- auto trading hat -->
<g>
<path d="M166 9 L174 8 L182 9 L176 16 Z" fill="#f6dc58" stroke="#c8a020" stroke-width="0.8"/>
<ellipse cx="173" cy="6" rx="8" ry="3" fill="#58b0e0" stroke="#2878b0" stroke-width="0.8"/>
<ellipse cx="172.5" cy="3.8" rx="4" ry="2.8" fill="#70c0ea" stroke="#2878b0" stroke-width="0.8"/>
<circle cx="177.5" cy="12.5" r="4.2" fill="#e02010" stroke="#a01008" stroke-width="0.6"/>
<rect x="176" y="11" width="3" height="3" fill="#fff"/>
</g>
<!-- 自动交易 -->
<g fill="none" stroke="#000" stroke-width="1.1">
<path d="M193 1.8l-1 1.2 M188.5 3.5h8v9.5h-8z M188.5 6.5h8 M188.5 9.8h8"/>
<path d="M199 3h4.5 M198.5 6h5.5 M201.2 6l-2.5 5.5 l5 -1 M202.8 9l1 1.8 M204.5 5.5h5v6.5l-1.2-0.5 M207 2.5v3c0 3 -1 5.5 -3 7.5"/>
<path d="M215.5 2v1.5 M210 4.2h11 M213 5.5l-2 2 M218 5.5l2 2 M212 8l8.5 5 M219 8l-8.5 5"/>
<path d="M224.5 2.5h7v4.5h-7z M224.5 4.8h7 M223 8.5h9.5v4.5l-1.5-0.5 M225.5 8.5l-3 3.5 M228 9l-3 4 M230.5 9.5l-2.5 3.5"/>
</g>
<!-- bar chart icon -->
<g fill="none" stroke="#505050" stroke-width="1.1">
<path d="M259.5 4 V17 M257 14.5 H270"/>
</g>
<path d="M258 5.5 L259.5 3 L261 5.5 Z M269.5 13 L272 14.5 L269.5 16 Z" fill="#505050"/>
<path d="M265.5 4 V12.5 M265.5 5.5 H268 M263 11.5 H265.5" fill="none" stroke="#109010" stroke-width="1.1"/>
<!-- candle icon -->
<g fill="none" stroke="#505050" stroke-width="1.1"><path d="M287.5 4 V17 M285 14.5 H298"/></g>
<path d="M286 5.5 L287.5 3 L289 5.5 Z M297.5 13 L300 14.5 L297.5 16 Z" fill="#505050"/>
<path d="M293.5 1 V12.5" stroke="#109010" stroke-width="1.1"/>
<rect x="291.5" y="3.5" width="4" height="7" fill="#40e060" stroke="#109010" stroke-width="1"/>
<!-- line icon -->
<g fill="none" stroke="#505050" stroke-width="1.1"><path d="M315.5 4 V17 M313 14.5 H326"/></g>
<path d="M314 5.5 L315.5 3 L317 5.5 Z M325.5 13 L328 14.5 L325.5 16 Z" fill="#505050"/>
<path d="M314 11.5 Q317 6 320 6.3 Q322 6.5 325.5 9.8" fill="none" stroke="#30a030" stroke-width="1.1"/>
<!-- zoom in/out -->
<g>
<path d="M354.5 10.5 L360 16" stroke="#a07010" stroke-width="3.2"/>
<path d="M354.5 10.5 L360 16" stroke="#e8d050" stroke-width="1.8"/>
<circle cx="350.8" cy="6.8" r="5.4" fill="#dff2ff" stroke="#2c6cc0" stroke-width="1"/>
<path d="M348 6.8 H353.6 M350.8 4 V9.6" stroke="#4080b0" stroke-width="1.6"/>
<path d="M383 10.5 L388.5 16" stroke="#a07010" stroke-width="3.2"/>
<path d="M383 10.5 L388.5 16" stroke="#e8d050" stroke-width="1.8"/>
<circle cx="379" cy="6.8" r="5.4" fill="#dff2ff" stroke="#2c6cc0" stroke-width="1"/>
<path d="M376.2 6.8 H381.8" stroke="#4080b0" stroke-width="1.6"/>
</g>
<!-- tile windows -->
<g shape-rendering="crispEdges">
<rect x="401" y="1" width="8" height="8" fill="#2aa020"/><rect x="409" y="1" width="8" height="8" fill="#2050d8"/>
<rect x="401" y="9" width="8" height="8" fill="#2050d8"/><rect x="409" y="9" width="8" height="8" fill="#2aa020"/>
<path d="M402 4h6v3h-1v-1h-4v1h-1z M410 4h6v3h-1v-1h-4v1h-1z M402 12h6v3h-1v-1h-4v1h-1z M410 12h6v3h-1v-1h-4v1h-1z" fill="#fff"/>
</g>
<!-- auto scroll -->
<g fill="none" stroke="#505050" stroke-width="1.1"><path d="M439.5 4 V17 M437 14.5 H450"/></g>
<path d="M438 5.5 L439.5 3 L441 5.5 Z M449.5 13 L452 14.5 L449.5 16 Z" fill="#505050"/>
<path d="M444.5 5.5 L448 8.5 L444.5 11.5 Z" fill="#a0e0a0" stroke="#10a010" stroke-width="1.1"/>
<!-- chart shift -->
<g fill="none" stroke="#505050" stroke-width="1.1"><path d="M467.5 4 V17 M465 14.5 H478"/></g>
<path d="M466 5.5 L467.5 3 L469 5.5 Z M477.5 13 L480 14.5 L477.5 16 Z" fill="#505050"/>
<path d="M473.5 3 V12.5" stroke="#1060a0" stroke-width="1.1"/>
<path d="M474.5 8.5 L477 6.5 L476.5 8 H479 V9 H476.5 L477 10.5 Z" fill="#e05010"/>
<!-- new chart -->
<g>
<path d="M498.5 1.5 H506 L509.5 5 V14.5 H498.5 Z" fill="#fff" stroke="#666" stroke-width="1"/>
<path d="M506 1.5 V5 H509.5" fill="#ddd" stroke="#666" stroke-width="1"/>
<path d="M502 4 Q501 4 501 6 V11.5" fill="none" stroke="#666" stroke-width="0.8"/>
<path d="M506 7.5h4v4h4v4h-4v4h-4v-4h-4v-4h4z" fill="#10d030" stroke="#0a8a1a" stroke-width="1"/>
</g>
<path d="M519.5 8 H526 L522.75 11.5 Z M558.5 8 H565 L561.75 11.5 Z M597.5 8 H604 L600.75 11.5 Z M903.5 8 H910 L906.75 11.5 Z" fill="#000"/>
<!-- clock -->
<g>
<circle cx="544" cy="9" r="7" fill="#fff" stroke="#1a70d8" stroke-width="2"/>
<path d="M543 4.5 V9.5 H546.5" fill="none" stroke="#222" stroke-width="1"/>
</g>
<!-- templates -->
<g>
<rect x="575.5" y="2.5" width="15" height="13" fill="#fff" stroke="#3a78c8" stroke-width="1"/>
<rect x="576" y="3" width="14" height="2" fill="#5a98e0"/>
<path d="M576 10.5 H590" stroke="#3a78c8" stroke-width="1"/>
<path d="M577 8.5 L579 8.5 L581 7 L583 7.5 L585 6.5 L587 7 L589 6.5" fill="none" stroke="#a03010" stroke-width="1"/>
<path d="M578 13.5 L580 12.5 L582 13.5 L584.5 11.5 L586 12 L588 13.5" fill="none" stroke="#20a020" stroke-width="1"/>
</g>
<!-- cursor -->
<path d="M627 2 L635 9.6 L631.8 9.8 L633.8 15 L632.2 15.8 L630.2 10.7 L627.2 13.3 Z" fill="#555"/>
<!-- crosshair -->
<path d="M652 9.5 H658.5 M660.5 9.5 H667 M659.5 2 V8.5 M659.5 10.5 V17" stroke="#444" stroke-width="1.1"/>
<!-- vertical / horizontal / trend -->
<path d="M693.5 3 V16" stroke="#444" stroke-width="1.3"/>
<path d="M716 9.5 H728" stroke="#444" stroke-width="1.3"/>
<path d="M743.5 15.8 L756 3.8" stroke="#555" stroke-width="1.2"/>
<!-- equidistant channel -->
<g stroke="#444" stroke-width="1" fill="none">
<path d="M770 10 L777.5 3 M771 15 L783.5 4 M775 16 L784 8"/>
<path d="M772.5 9 L772 15 M776 7 L775.5 13 M780 4 L779.5 10 M781.5 1 L781 7"/>
</g>
<path d="M781.5 13h3.5v1h-2.5v1h2v1h-2v1h2.5v1h-3.5z" fill="#333"/>
<!-- fibonacci -->
<g fill="#444" shape-rendering="crispEdges">
<path d="M799 2h1v1h-1zM801 2h1v1h-1zM803 2h1v1h-1zM805 2h1v1h-1zM807 2h1v1h-1zM809 2h1v1h-1zM811 2h1v1h-1z"/>
<path d="M799 5h1v1h-1zM801 5h1v1h-1zM803 5h1v1h-1zM805 5h1v1h-1zM807 5h1v1h-1zM809 5h1v1h-1zM811 5h1v1h-1z"/>
<path d="M799 9h1v1h-1zM801 9h1v1h-1zM803 9h1v1h-1zM805 9h1v1h-1zM807 9h1v1h-1zM809 9h1v1h-1zM811 9h1v1h-1z"/>
<path d="M799 13h1v1h-1zM801 13h1v1h-1zM803 13h1v1h-1zM805 13h1v1h-1zM807 13h1v1h-1z"/>
<path d="M809 13h4v1h-3v1h2v1h-2v2h-1z"/>
</g>
<!-- A -->
<text x="829.5" y="14" font-size="12" fill="#555" style="font-family:'Liberation Sans',sans-serif">A</text>
<!-- T label -->
<g fill="#555" shape-rendering="crispEdges">
<path d="M855 2h2v1h-2z M856 3h1v1h-1zM858 3h1v1h-1zM860 3h1v1h-1zM862 3h1v1h-1zM864 3h1v1h-1zM866 3h1v1h-1z M856 15h1v1h-1zM858 15h1v1h-1zM860 15h1v1h-1zM862 15h1v1h-1zM864 15h1v1h-1zM866 15h1v1h-1z M856 5h1v1h-1zM856 7h1v1h-1zM856 9h1v1h-1zM856 11h1v1h-1zM856 13h1v1h-1z M867 5h1v1h-1zM867 7h1v1h-1zM867 9h1v1h-1zM867 11h1v1h-1zM867 13h1v1h-1z"/>
<path d="M858 6h8v1.3h-3.3v6.2h-1.4v-6.2h-3.3z"/>
</g>
<!-- arrows tool -->
<path d="M883 7.3 L886.5 3 L890 7.3 Z M890 11 L897 11 L893.5 16 Z" fill="#555"/>
<path d="M885 9.5 L887.5 12 L892 7.3" fill="none" stroke="#555" stroke-width="1.2"/>
<!-- timeframes -->
<g font-size="9.6" fill="#333" style="font-family:'Liberation Sans',sans-serif">
<text x="930.5" y="13">M1</text><text x="958.5" y="13">M5</text><text x="985" y="13">M15</text><text x="1013" y="13">M30</text>
<text x="1043" y="13">H1</text><text x="1070" y="13">H4</text><text x="1100" y="13">D1</text><text x="1127" y="13">W1</text><text x="1154" y="13">MN</text>
</g>
<!-- search -->
<g>
<circle cx="1646.3" cy="6.2" r="3.6" fill="#f4f4ff" stroke="#2060d0" stroke-width="1.1"/>
<path d="M1643.6 8.9 L1639.8 13" stroke="#2060d0" stroke-width="2"/>
</g>
<!-- chat + badge -->
<g>
<ellipse cx="1669" cy="11" rx="5.8" ry="4.5" fill="#e4e4ee" stroke="#a0a0a0" stroke-width="0.9"/>
<path d="M1666 15 L1665 17.5 L1668.5 15.2" fill="#ccc" stroke="#909090" stroke-width="0.8"/>
<circle cx="1677.5" cy="7" r="8.2" fill="#e03018"/>
<path d="M1675.2 3.8 L1677.4 2.4 V10.6 M1674.6 10.6 H1680" stroke="#fff" stroke-width="1.5" fill="none"/>
</g>
</g>

</svg></body></html>
